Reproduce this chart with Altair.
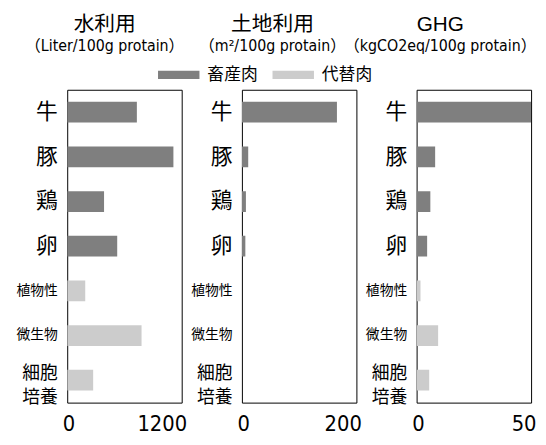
import altair as alt
import pandas as pd

categories = ["牛", "豚", "鶏", "卵", "植物性", "微生物", "細胞培養"]
groups = ["畜産肉", "畜産肉", "畜産肉", "畜産肉", "代替肉", "代替肉", "代替肉"]
water = [730, 1113, 386, 524, 189, 779, 272]
land = [166, 11, 7, 6, 0, 0, 0]
ghg = [50, 8.1, 6.0, 4.6, 1.7, 9.4, 5.5]

fields = ["water", "land", "ghg"]
titles = ["水利用", "土地利用", "GHG"]
subtitles = ["（Liter/100g protain）", "（m²/100g protain）", "（kgCO2eq/100g protain）"]
xmax = [1200, 200, 50]
title_dx = [-20, -27, -34]
group_order = ["畜産肉", "代替肉"]
colors = ["#7f7f7f", "#cccccc"]

df = pd.DataFrame({"cat": categories, "grp": groups,
                   "water": water, "land": land, "ghg": ghg})

LATIN = "Liberation Sans Narrow, DejaVu Sans Condensed, Noto Sans CJK JP, sans-serif"
CJK = "Liberation Sans, Noto Sans CJK JP, sans-serif"

legend = alt.Legend(
    orient="none", legendX=92, legendY=-36, direction="horizontal", title=None,
    symbolType="M-1,-0.2H1V0.2H-1Z", symbolSize=1764, symbolStrokeWidth=0,
    labelFontSize=17, labelFont="Noto Sans CJK JP", labelColor="black",
    labelOffset=8, columnPadding=15,
)


def panel(i):
    f = fields[i]
    return alt.Chart(
        df,
        title=alt.TitleParams(
            text=titles[i], subtitle=subtitles[i], anchor="middle", dx=title_dx[i],
            font=CJK, fontSize=21, fontWeight="normal", color="black",
            subtitleFont=LATIN, subtitleFontSize=16, subtitleColor="black",
            subtitlePadding=4, offset=36,
        ),
    ).mark_bar(clip=True).encode(
        x=alt.X(f"{f}:Q",
                scale=alt.Scale(domain=[0, xmax[i]], nice=False),
                axis=alt.Axis(values=[0, xmax[i]], title=None, labelFlush=True,
                              labelFlushOffset=5, labelFont=LATIN, labelFontSize=22,
                              labelPadding=11, format="d")),
        y=alt.Y("cat:N", sort=categories,
                scale=alt.Scale(paddingInner=0.536, paddingOuter=0.27),
                axis=alt.Axis(title=None, labelPadding=10, labelFont="Noto Sans CJK JP",
                              labelExpr="datum.value == '細胞培養' ? ['細胞', '培養'] : datum.value",
                              labelLineHeight=24,
                              labelOffset={"condition": {"test": "datum.value == '細胞培養'", "value": -6},
                                           "value": 0},
                              labelFontSize={"condition": [
                                  {"test": "datum.value == '細胞培養'", "value": 18},
                                  {"test": "length(datum.value) == 3", "value": 14}],
                                  "value": 22})),
        color=alt.Color("grp:N", scale=alt.Scale(domain=group_order, range=colors),
                        legend=legend),
    ).properties(width=116, height=317)


chart = alt.hconcat(panel(0), panel(1), panel(2), spacing=61, bounds="flush").properties(
    padding={"left": 7, "top": 2, "right": 0, "bottom": 0}
).configure_view(stroke="black", strokeWidth=1).configure_axis(
    domain=False, ticks=False, grid=False, labelColor="black"
)

chart.save("out.html", embed_options={"renderer": "svg", "actions": False})
